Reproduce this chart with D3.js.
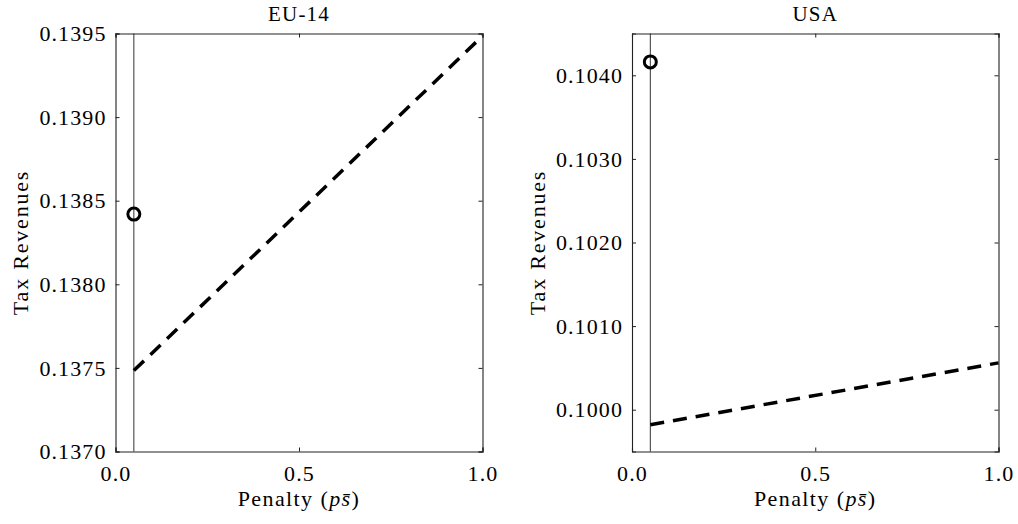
<!DOCTYPE html>
<html><head><meta charset="utf-8">
<script src="https://cdn.jsdelivr.net/npm/d3@7"></script>
<style>
body{margin:0;background:#fff;}
text{font-family:"Liberation Serif","Times New Roman",serif;fill:#000;}
</style></head>
<body>
<svg id="c" width="1018" height="524"></svg>
<script>
// Data
const panelTitles = ["EU-14", "USA"];
const penaltyLine = [0.05, 1.0];              // x of dashed line endpoints
const eu14Line = [0.137484, 0.139485];        // tax revenues along dashed line
const usaLine = [0.09982, 0.10056];
const eu14Point = [0.05, 0.13842];            // circle marker (penalty, revenue)
const usaPoint = [0.05, 0.10416];
const refPenalty = 0.05;                      // vertical reference line
const eu14Domain = [0.1370, 0.1395];
const usaDomain = [0.0995, 0.1045];
const eu14Ticks = [0.1370, 0.1375, 0.1380, 0.1385, 0.1390, 0.1395];
const usaTicks = [0.1000, 0.1010, 0.1020, 0.1030, 0.1040];
const xTicks = [0.0, 0.5, 1.0];

const panels = [
  {title: panelTitles[0], line: eu14Line, point: eu14Point, domain: eu14Domain, ticks: eu14Ticks, left: 115.5, right: 482.5, ylab: 20},
  {title: panelTitles[1], line: usaLine, point: usaPoint, domain: usaDomain, ticks: usaTicks, left: 632, right: 998.5, ylab: 537}
];
const plotTop = 33.5, plotBottom = 451.5;
const svg = d3.select("#c");

panels.forEach(p => {
  const x = d3.scaleLinear().domain([0, 1]).range([p.left, p.right]);
  const y = d3.scaleLinear().domain(p.domain).range([plotBottom, plotTop]);
  const g = svg.append("g");

  // reference vertical line
  g.append("line").attr("x1", x(refPenalty)).attr("x2", x(refPenalty))
    .attr("y1", plotTop).attr("y2", plotBottom).attr("stroke", "#333").attr("stroke-width", 1);

  // axes (inward ticks)
  const fmtY = d3.format(".4f"), fmtX = d3.format(".1f");
  const axL = g.append("g").attr("transform", `translate(${p.left},0)`)
    .call(d3.axisRight(y).tickValues(p.ticks).tickSize(4).tickFormat(""));
  const axR = g.append("g").attr("transform", `translate(${p.right},0)`)
    .call(d3.axisLeft(y).tickValues(p.ticks).tickSize(4).tickFormat(""));
  const axB = g.append("g").attr("transform", `translate(0,${plotBottom})`)
    .call(d3.axisTop(x).tickValues(xTicks).tickSize(4).tickFormat(""));
  const axT = g.append("g").attr("transform", `translate(0,${plotTop})`)
    .call(d3.axisBottom(x).tickValues(xTicks).tickSize(4).tickFormat(""));
  [axL, axR, axB, axT].forEach(a => {
    a.select(".domain").attr("stroke", "#222").attr("stroke-width", 1.1);
    a.selectAll(".tick line").attr("stroke", "#222").attr("stroke-width", 1);
  });

  // tick labels
  g.selectAll(".yl").data(p.ticks).enter().append("text")
    .attr("x", p.left - 9).attr("y", d => y(d)).attr("dy", "0.35em")
    .attr("text-anchor", "end").attr("font-size", 22).attr("letter-spacing", 1.1).text(d => fmtY(d));
  g.selectAll(".xl").data(xTicks).enter().append("text")
    .attr("x", d => x(d) + 0.5).attr("y", plotBottom + 22).attr("dy", "0.35em")
    .attr("text-anchor", "middle").attr("font-size", 22).attr("letter-spacing", 1.1).text(d => fmtX(d));

  // dashed line
  const pts = penaltyLine.map((v, i) => [v, p.line[i]]);
  g.append("path").attr("d", d3.line().x(d => x(d[0])).y(d => y(d[1]))(pts))
    .attr("fill", "none").attr("stroke", "#000").attr("stroke-width", 3.5)
    .attr("stroke-dasharray", "14,9");

  // circle marker
  g.append("circle").attr("cx", x(p.point[0])).attr("cy", y(p.point[1])).attr("r", 6)
    .attr("fill", "none").attr("stroke", "#000").attr("stroke-width", 3);

  // title
  g.append("text").attr("x", (p.left + p.right) / 2).attr("y", 21)
    .attr("text-anchor", "middle").attr("font-size", 21).attr("letter-spacing", 1.2).text(p.title);

  // y label
  g.append("text").attr("transform", `translate(${p.ylab},${(plotTop + plotBottom) / 2}) rotate(-90)`)
    .attr("text-anchor", "middle").attr("dy", "0.35em").attr("font-size", 22).attr("letter-spacing", 1.8).text("Tax Revenues");

  // x label
  const xl = g.append("text").attr("x", (p.left + p.right) / 2).attr("y", 506)
    .attr("text-anchor", "middle").attr("font-size", 22).attr("letter-spacing", 1.4);
  xl.append("tspan").text("Penalty (");
  xl.append("tspan").attr("font-style", "italic").text("p");
  xl.append("tspan").attr("font-style", "italic").text("s\u0304");
  xl.append("tspan").text(")");
});
</script>
</body></html>
